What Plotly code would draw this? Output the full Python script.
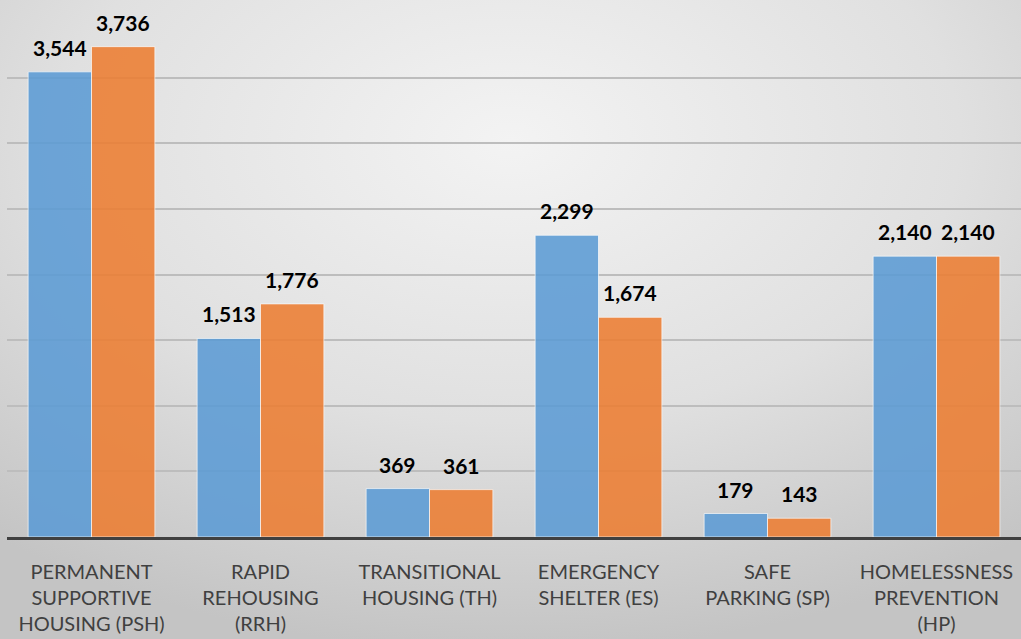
import base64
import plotly.graph_objects as go

categories = [
    "PERMANENT<br>SUPPORTIVE<br>HOUSING (PSH)",
    "RAPID<br>REHOUSING<br>(RRH)",
    "TRANSITIONAL<br>HOUSING (TH)",
    "EMERGENCY<br>SHELTER (ES)",
    "SAFE<br>PARKING (SP)",
    "HOMELESSNESS<br>PREVENTION<br>(HP)",
]
series_a = [3544, 1513, 369, 2299, 179, 2140]
series_b = [3736, 1776, 361, 1674, 143, 2140]

svg = (
    '<svg xmlns="http://www.w3.org/2000/svg" width="1021" height="639" preserveAspectRatio="none">'
    '<defs><radialGradient id="g" cx="50%" cy="22%" r="80%">'
    '<stop offset="0%" stop-color="#f3f3f3"/>'
    '<stop offset="55%" stop-color="#e0e0e0"/>'
    '<stop offset="100%" stop-color="#c4c4c4"/>'
    '</radialGradient></defs>'
    '<rect width="1021" height="639" fill="url(#g)"/></svg>'
)
bg_uri = "data:image/svg+xml;base64," + base64.b64encode(svg.encode()).decode()

FONT = "Lato, 'Open Sans', sans-serif"
label_font = dict(family=FONT, size=21, color="#000000")

L, R, T, B = 7, 0, 12, 102
W, H = 1021, 639
pw, ph = W - L - R, H - T - B
BARGAP = 0.25
cat_px = pw / len(categories)
half_bar = cat_px * (1 - BARGAP) / 4

fig = go.Figure()
for vals, col in [(series_a, "#5b9bd5"), (series_b, "#ed7d31")]:
    fig.add_trace(go.Bar(
        x=categories, y=vals,
        marker=dict(color=col, opacity=0.87, line=dict(color="rgba(255,255,255,0.7)", width=1)),
        hoverinfo="x+y",
    ))

annotations = []
for vals, sign in [(series_a, -1), (series_b, 1)]:
    for c, v in zip(categories, vals):
        annotations.append(dict(
            x=c, y=v, xref="x", yref="y", text=f"<b>{v:,}</b>",
            showarrow=False, xanchor="center", yanchor="bottom",
            xshift=sign * half_bar, yshift=10, font=label_font,
        ))

fig.update_layout(
    width=W, height=H,
    margin=dict(l=L, r=R, t=T, b=B),
    barmode="group", bargap=BARGAP, bargroupgap=0,
    showlegend=False,
    paper_bgcolor="#dcdcdc",
    plot_bgcolor="rgba(0,0,0,0)",
    annotations=annotations,
    images=[dict(
        source=bg_uri, xref="paper", yref="paper",
        x=-L / pw, y=1 + T / ph, sizex=W / pw, sizey=H / ph,
        xanchor="left", yanchor="top", sizing="stretch", layer="below",
    )],
    xaxis=dict(
        showline=True, linecolor="#404040", linewidth=3,
        tickfont=dict(family=FONT, size=20, color="#404040"),
        ticks="", showgrid=False, ticklabelstandoff=15,
    ),
    yaxis=dict(
        range=[0, 4000], dtick=500, showticklabels=False,
        showgrid=True, gridcolor="#bdbdbd", gridwidth=1.5,
        zeroline=False, ticks="",
    ),
)

fig.write_html("out.html")
